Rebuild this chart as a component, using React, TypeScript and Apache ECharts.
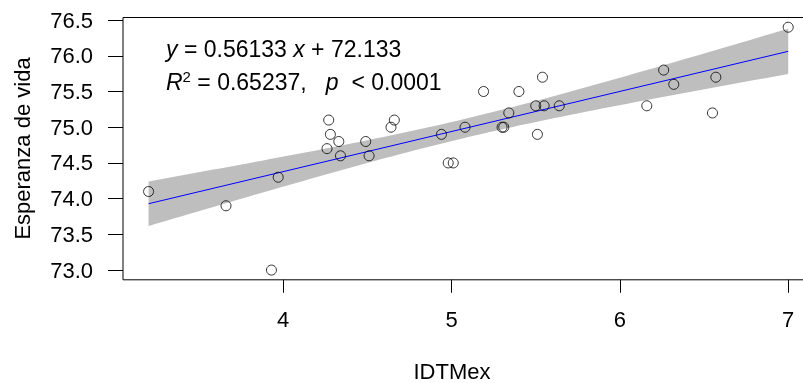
import React, { useEffect, useRef } from "react";
import * as echarts from "echarts";

const xValues = [3.2, 3.66, 3.97, 3.93, 4.26, 4.27, 4.28, 4.33, 4.34, 4.49, 4.51, 4.64, 4.66, 4.94, 4.98, 5.01, 5.08, 5.19, 5.3, 5.31, 5.34, 5.4, 5.5, 5.51, 5.54, 5.55, 5.64, 6.16, 6.26, 6.32, 6.55, 6.57, 7.0];
const yValues = [74.1, 73.9, 74.3, 73.0, 74.7, 75.1, 74.9, 74.8, 74.6, 74.8, 74.6, 75.0, 75.1, 74.9, 74.5, 74.5, 75.0, 75.5, 75.0, 75.0, 75.2, 75.5, 75.3, 74.9, 75.7, 75.3, 75.3, 75.3, 75.8, 75.6, 75.2, 75.7, 76.4];
const xTicks = [4, 5, 6, 7];
const yTicks = [73.0, 73.5, 74.0, 74.5, 75.0, 75.5, 76.0, 76.5];
const slope = 0.56133;
const intercept = 72.133;
const eqLine1 = "{i|y} = 0.56133 {i|x} + 72.133";
const eqLine2 = "{i|R}{s|2} = 0.65237,   {i|p}  < 0.0001";
const xTitle = "IDTMex";
const yTitle = "Esperanza de vida";

const FONT = "'Liberation Sans', Arial, sans-serif";

function bandData() {
  const n = xValues.length;
  const xbar = xValues.reduce((a, b) => a + b, 0) / n;
  let sxx = 0;
  let sse = 0;
  for (let i = 0; i < n; i++) {
    sxx += (xValues[i] - xbar) ** 2;
    const e = yValues[i] - (intercept + slope * xValues[i]);
    sse += e * e;
  }
  const s = Math.sqrt(sse / (n - 2));
  const t = 2.0395;
  const xmin = Math.min(...xValues);
  const xmax = Math.max(...xValues);
  const upper: number[][] = [];
  const lower: number[][] = [];
  const steps = 80;
  for (let k = 0; k < steps; k++) {
    const x = xmin + ((xmax - xmin) * k) / (steps - 1);
    const yh = intercept + slope * x;
    const h = t * s * Math.sqrt(1 / n + (x - xbar) ** 2 / sxx);
    upper.push([x, yh + h]);
    lower.push([x, yh - h]);
  }
  return { upper, lower, xmin, xmax };
}

export default function App() {
  const ref = useRef<HTMLDivElement>(null);
  useEffect(() => {
    if (!ref.current) return;
    document.body.style.overflow = "hidden";
    const chart = echarts.init(ref.current, undefined, { renderer: "svg" });
    const { upper, lower, xmin, xmax } = bandData();
    const xr = xmax - xmin;
    const ymin = Math.min(...yValues);
    const ymax = Math.max(...yValues);
    const yr = ymax - ymin;
    chart.setOption({
      animation: false,
      grid: {
        left: 123,
        top: 17.5,
        width: 690.8,
        height: 262.3,
        show: true,
        borderColor: "#000",
        borderWidth: 1,
        backgroundColor: "transparent",
      },
      xAxis: {
        type: "value",
        min: xmin - 0.04 * xr,
        max: xmax + 0.04 * xr,
        axisLine: { show: false },
        splitLine: { show: false },
        axisTick: { show: true, inside: false, length: 13, lineStyle: { color: "#000" }, customValues: xTicks },
        axisLabel: { customValues: xTicks, margin: 29, fontSize: 22, color: "#000", fontFamily: FONT },
      },
      yAxis: {
        type: "value",
        min: ymin - 0.04 * yr,
        max: ymax + 0.04 * yr,
        axisLine: { show: false },
        splitLine: { show: false },
        axisTick: { show: true, inside: false, length: 15, lineStyle: { color: "#000" }, customValues: yTicks },
        axisLabel: {
          customValues: yTicks,
          margin: 30,
          fontSize: 22,
          color: "#000",
          fontFamily: FONT,
          formatter: (v: number) => v.toFixed(1),
        },
      },
      series: [
        {
          type: "custom",
          data: [[xmin, upper[0][1]]],
          z: 1,
          silent: true,
          renderItem: (params: any, api: any) => {
            const pts = upper.map((p) => api.coord(p)).concat(lower.slice().reverse().map((p) => api.coord(p)));
            return { type: "polygon", shape: { points: pts }, style: { fill: "#BEBEBE", stroke: "none" } };
          },
        },
        {
          type: "line",
          z: 2,
          data: [
            [xmin, intercept + slope * xmin],
            [xmax, intercept + slope * xmax],
          ],
          showSymbol: false,
          lineStyle: { color: "#0000FF", width: 1 },
        },
        {
          type: "scatter",
          z: 3,
          symbol: "circle",
          symbolSize: 10,
          data: xValues.map((x, i) => [x, yValues[i]]),
          itemStyle: { color: "rgba(0,0,0,0)", borderColor: "#000", borderWidth: 1 },
        },
      ],
      graphic: [
        {
          type: "text",
          x: 22,
          y: 148.5,
          rotation: Math.PI / 2,
          style: {
            text: yTitle,
            fontSize: 22,
            fontFamily: FONT,
            fill: "#000",
            align: "center",
            verticalAlign: "middle",
            textAlign: "center",
            textVerticalAlign: "middle",
          },
        },
        {
          type: "text",
          x: 452,
          y: 371.5,
          style: {
            text: xTitle,
            fontSize: 22,
            fontFamily: FONT,
            fill: "#000",
            align: "center",
            verticalAlign: "middle",
            textAlign: "center",
            textVerticalAlign: "middle",
          },
        },
        {
          type: "text",
          x: 166,
          y: 49,
          style: {
            text: eqLine1,
            fontSize: 23,
            fontFamily: FONT,
            fill: "#000",
            align: "left",
            verticalAlign: "middle",
            textAlign: "left",
            textVerticalAlign: "middle",
            rich: {
              i: { fontSize: 23, fontStyle: "italic", fontFamily: FONT, fill: "#000" },
            },
          },
        },
        {
          type: "text",
          x: 166,
          y: 81.5,
          style: {
            text: eqLine2,
            fontSize: 23,
            fontFamily: FONT,
            fill: "#000",
            align: "left",
            verticalAlign: "middle",
            textAlign: "left",
            textVerticalAlign: "middle",
            rich: {
              i: { fontSize: 23, fontStyle: "italic", fontFamily: FONT, fill: "#000", lineHeight: 25 },
              s: { fontSize: 15, fontFamily: FONT, fill: "#000", verticalAlign: "top", lineHeight: 14 },
            },
          },
        },
      ],
    });
    return () => chart.dispose();
  }, []);
  return <div ref={ref} style={{ position: "fixed", left: 0, top: 0, width: 830, height: 383 }} />;
}
